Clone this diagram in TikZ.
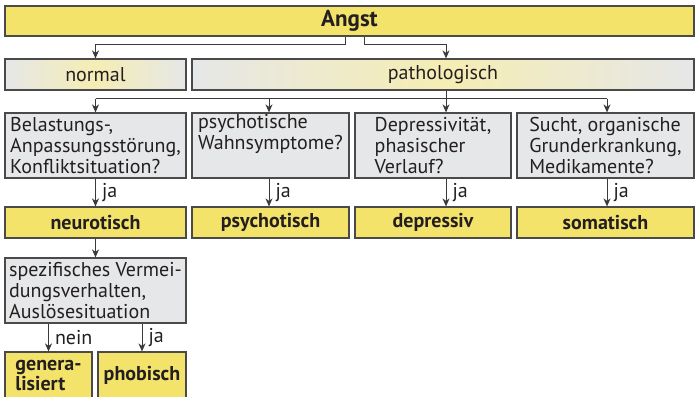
\documentclass[tikz,border=0pt]{standalone}
\usepackage{fontspec}
\setmainfont{PT Sans}
\usetikzlibrary{arrows.meta,calc}
\definecolor{yel}{HTML}{F3E36B}
\definecolor{gry}{HTML}{E6E7E8}
\definecolor{lyel}{HTML}{F5EDB3}
\definecolor{bord}{HTML}{4A4A4A}
\definecolor{txt}{HTML}{231F20}
\definecolor{lnc}{HTML}{3A3A3A}
\begin{document}
\begin{tikzpicture}[x=1pt,y=-1pt,
  box/.style={draw=bord, line width=1.2pt, inner sep=0pt, text=txt,
    font=\fontsize{20}{21}\selectfont, align=left},
  qbox/.style={box, fill=gry},
  ybox/.style={box, fill=yel, font=\fontsize{20}{20}\selectfont\bfseries},
  gbox/.style={box, left color=gry, right color=gry, middle color=lyel},
  sz/.style 2 args={minimum width=#1pt, minimum height=#2pt},
  ln/.style={draw=lnc, line width=1pt},
  arr/.style={ln, -{Stealth[length=8pt,width=7pt,inset=2.5pt]}},
  lab/.style={right=6pt, inner sep=0pt, text=txt, font=\fontsize{20}{21}\selectfont}
]
\useasboundingbox (0,0) rectangle (698,396);
\fill[white] (0,0) rectangle (698,396);

\node[ybox, sz={689}{30}, font=\fontsize{23}{24}\selectfont\bfseries] (angst) at (349.5,21) {Angst};
\node[gbox, sz={181}{31}] (normal) at (95.5,74.5) {normal};
\node[gbox, sz={502}{31}] (patho) at (443,74.5) {pathologisch};

\node[qbox, sz={181}{65}] (q1) at (95.5,145.5) {Belastungs-,\\Anpassungsstörung,\\Konfliktsituation?};
\node[qbox, sz={157}{65}] (q2) at (270.5,145.5) {psychotische\\Wahnsymptome?\\\strut};
\node[qbox, sz={156}{65}] (q3) at (433,145.5) {Depressivität,\\phasischer\\Verlauf?};
\node[qbox, sz={177}{65}] (q4) at (605.5,145.5) {Sucht, organische\\Grunderkrankung,\\Medikamente?};

\node[ybox, sz={181}{31}] (r1) at (95.5,222.5) {neurotisch};
\node[ybox, sz={157}{31}] (r2) at (270.5,222.5) {psychotisch};
\node[ybox, sz={156}{31}] (r3) at (433,222.5) {depressiv};
\node[ybox, sz={177}{31}] (r4) at (605.5,222.5) {somatisch};

\node[qbox, sz={181}{65}] (spec) at (95.5,290.5) {spezifisches Vermei-\\dungsverhalten,\\Auslösesituation};

\node[ybox, sz={87}{46}] (gen) at (48.5,375) {genera-\\lisiert};
\node[ybox, sz={88}{46}] (phob) at (142,375) {phobisch};

% connectors
\draw[arr] ([xshift=-3.8]angst.south) -- ++(0,8) -| (normal.north);
\draw[arr] ([xshift=14.5]angst.south) -- ++(0,8) -| ([xshift=3]patho.north);
\draw[ln] ([xshift=3]patho.south) -- ++(0,8) coordinate (hub);
\draw[ln] (q1.north |- hub) -- ([xshift=1.5]q4.north |- hub);
\draw[arr] (q1.north |- hub) -- (q1.north);
\draw[arr] ([xshift=-1.5]q2.north |- hub) -- ([xshift=-1.5]q2.north);
\draw[arr] (hub) -- (hub |- q3.north);
\draw[arr] ([xshift=1.5]q4.north |- hub) -- ([xshift=1.5]q4.north);

\draw[arr] (q1.south) -- node[lab] {ja} (r1.north);
\draw[arr] ([xshift=-1.5]q2.south) -- node[lab] {ja} ([xshift=-1.5]r2.north);
\draw[arr] ([xshift=13]q3.south) -- node[lab] {ja} ([xshift=13]r3.north);
\draw[arr] ([xshift=1.5]q4.south) -- node[lab] {ja} ([xshift=1.5]r4.north);

\draw[arr] (r1.south) -- (spec.north);
\draw[arr] (spec.south -| gen.north) -- node[lab] {nein} (gen.north);
\draw[arr] (spec.south -| phob.north) -- node[lab] {ja} (phob.north);
\end{tikzpicture}
\end{document}
